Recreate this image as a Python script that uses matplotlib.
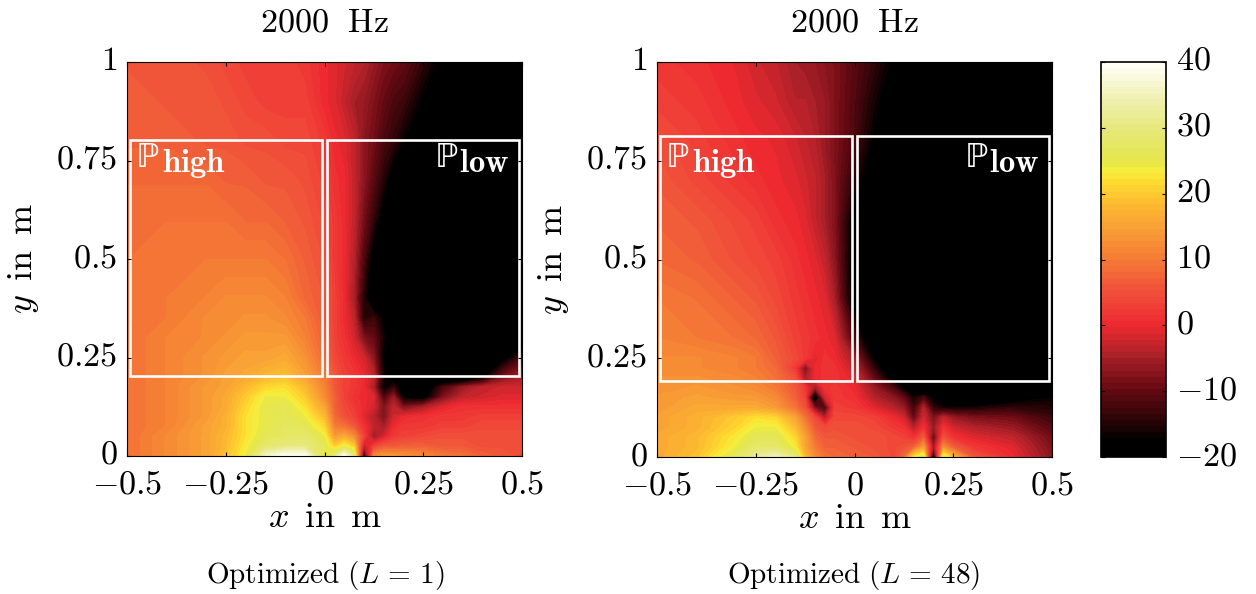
import numpy as np
import matplotlib
matplotlib.use('Agg')
import matplotlib.pyplot as plt
from matplotlib.cm import ScalarMappable
from matplotlib.colors import LinearSegmentedColormap, ListedColormap, Normalize
from matplotlib.patches import Rectangle
from matplotlib.transforms import ScaledTranslation

plt.rcParams['mathtext.fontset'] = 'cm'

# level in dB
l_x_left = [-.5, -.4, -.3, -.25, -.2, -.15, -.1, -.05, 0, .025, .05, .075, .1, .125, .15, .175, .2, .25, .3, .35, .4, .45, .5]
l_y_left = [0, .025, .05, .075, .1, .125, .15, .175, .2, .25, .3, .35, .4, .5, .6, .7, .8, .9, 1]
l_z_left = [
    [9, 12, 15, 19, 24, 36, 40, 40, 24, 30, 40, 30, -15, 12, 14, 14, 13, 12, 10, 9, 7, 6, 5],
    [9, 12, 15, 18, 23, 28, 30, 30, 26, 20, 24, 20, -4, 3, 6, 6, 7, 7, 6, 6, 5, 5, 5],
    [9, 12, 15, 18, 22, 26, 27, 28, 24, 14, 16, 12, 3, -6, -2, 2, 3, 4, 5, 5, 5, 5, 5],
    [9, 11, 15, 17, 22, 25, 27, 26, 21, 10, 9, 6, 1, -3, -5, 0, 2, 2, 3, 3, 4, 4, 4],
    [9, 11, 14, 17, 22, 25, 26, 24, 18, 8, 5, 3, -1, -4, -8, -2, 0, 1, 2, 2, 3, 3, 3],
    [9, 11, 14, 16, 21, 25, 26, 22, 15, 7, 4, 2, 0, -2, -8, -3, -8, -5, -1, 1, 1, 1, 1],
    [9, 11, 14, 16, 20, 24, 24, 20, 12, 7, 3, 1, 0, -1, -12, -6, -18, -20, -8, -3, -2, -1, -1],
    [9, 11, 14, 15, 18, 21, 22, 18, 11, 6, 3, 2, 0, -5, -18, -14, -20, -22, -12, -6, -3, -2, -2],
    [9, 11, 13, 15, 16, 18, 19, 15, 10, 6, 3, 2, 0, -3, -16, -20, -22, -25, -25, -25, -18, -8, -5],
    [9, 11, 13, 14, 15, 15, 16, 13, 8, 4, 2, 0, -2, -7, -18, -22, -24, -25, -25, -25, -25, -20, -12],
    [9, 11, 12, 13, 14, 14, 14, 11, 7, 3, 1, -2, -8, -10, -16, -22, -25, -25, -25, -25, -25, -25, -25],
    [9, 10, 12, 12, 13, 13, 12, 10, 6, 3, 0, -3, -15, -13, -18, -22, -25, -25, -25, -25, -25, -25, -25],
    [9, 10, 11, 12, 12, 12, 11, 8, 6, 3, 0, -5, -15, -24, -22, -25, -25, -25, -25, -25, -25, -25, -25],
    [9, 10, 10, 10, 10, 10, 9, 7, 5, 2, 0, -4, -12, -20, -24, -25, -25, -25, -25, -25, -25, -25, -25],
    [9, 9, 9, 9, 8, 8, 7, 6, 4, 2, 0, -3, -9, -14, -20, -25, -25, -25, -25, -25, -25, -25, -25],
    [8, 8, 8, 7, 7, 6, 6, 5, 3, 1, 0, -3, -7, -11, -15, -20, -25, -25, -25, -25, -25, -25, -25],
    [7, 7, 6, 6, 5, 5, 4, 4, 2, 0, -1, -3, -7, -9, -12, -14, -17, -21, -25, -25, -25, -25, -25],
    [7, 6, 6, 5, 4, 3, 3, 3, 0, -1, -3, -5, -6, -8, -10, -12, -13, -18, -22, -25, -25, -25, -25],
    [6, 6, 5, 4, 3, 3, 3, 2, 0, -1, -2, -3, -4, -6, -8, -9, -10, -14, -19, -24, -25, -25, -25],
]

l_x_right = [-.5, -.4, -.3, -.25, -.2, -.15, -.125, -.1, -.075, -.05, 0, .05, .1, .125, .15, .175, .2, .225, .25, .3, .4, .5]
l_y_right = [0, .025, .05, .075, .1, .125, .15, .175, .2, .225, .25, .3, .4, .5, .6, .7, .8, .9, 1]
l_z_right = [
    [16, 19, 27, 32, 35, 30, 18, 12, 9, 8, 7, 6, 4, 8, 22, 27, -20, 27, 18, 6, 0, -7],
    [16, 18, 24, 28, 28, 23, 15, 10, 7, 7, 6, 5, 4, 5, 7, 14, -6, 12, 7, 2, -1, -8],
    [16, 18, 23, 26, 26, 21, 15, 8, 6, 6, 5, 5, 4, 3, 1, 6, -10, 5, 1, -1, -3, -9],
    [15, 17, 21, 24, 24, 18, 12, 6, 4, 5, 5, 4, 2, 1, -4, 1, -6, 1, -2, -4, -6, -11],
    [15, 17, 20, 22, 21, 15, 9, 4, -4, 4, 4, 3, 0, -2, -10, -2, -8, -3, -6, -8, -9, -13],
    [14, 16, 16, 16, 14, 9, 5, -8, -12, 3, 2, -1, -4, -6, -13, -4, -14, -16, -16, -16, -14, -15],
    [14, 15, 14, 14, 12, 7, 3, -22, -2, 2, 1, -4, -7, -10, -16, -12, -18, -25, -25, -25, -20, -17],
    [13, 14, 13, 12, 10, 6, 2, -6, 1, 2, 0, -6, -12, -18, -25, -25, -25, -25, -25, -25, -25, -20],
    [13, 13, 12, 11, 9, 5, -5, 0, 1, 1, -1, -10, -20, -25, -25, -25, -25, -25, -25, -25, -25, -25],
    [12, 12, 11, 10, 8, 2, -8, 0, 1, 1, -3, -14, -24, -25, -25, -25, -25, -25, -25, -25, -25, -25],
    [12, 12, 11, 10, 7, 4, 2, -1, 1, 0, -5, -18, -25, -25, -25, -25, -25, -25, -25, -25, -25, -25],
    [11, 10, 9, 8, 6, 3, 2, 1, 0, -1, -12, -24, -25, -25, -25, -25, -25, -25, -25, -25, -25, -25],
    [10, 9, 7, 6, 4, 2, 1, 0, -1, -5, -20, -25, -25, -25, -25, -25, -25, -25, -25, -25, -25, -25],
    [8, 7, 5, 4, 3, 1, 0, -1, -3, -7, -20, -25, -25, -25, -25, -25, -25, -25, -25, -25, -25, -25],
    [7, 6, 4, 3, 1, 0, -1, -3, -5, -8, -19, -25, -25, -25, -25, -25, -25, -25, -25, -25, -25, -25],
    [6, 4, 2, 1, 0, -1, -2, -3, -5, -8, -15, -21, -25, -25, -25, -25, -25, -25, -25, -25, -25, -25],
    [5, 3, 1, 0, -.5, -2, -3, -4, -6, -8, -12, -18, -25, -25, -25, -25, -25, -25, -25, -25, -25, -25],
    [3, 2, 0, -1, -2, -4, -4, -5, -6, -8, -11.5, -16, -22, -25, -25, -25, -25, -25, -25, -25, -25, -25],
    [2, 1, -.5, -2, -3, -5, -5.5, -6, -7, -8, -11, -14, -18, -21, -25, -25, -25, -25, -25, -25, -25, -25],
]

l_cmap_vals = [-20, -18, -10, -5, 0, 5, 10, 15, 19, 22, 23.5, 25, 30, 35, 40]
l_cmap_cols = ['#000000', '#000000', '#680a12', '#a82028', '#ee2a30', '#f0503a', '#f47a35', '#f9a035',
               '#fdbe30', '#fddc2f', '#f8ee3c', '#e5e648', '#e6e878', '#f0f0b4', '#fffff8']

l_xticks = [-.5, -.25, 0, .25, .5]
l_xticklabels = [r'$-0.5$', r'$-0.25$', r'$0$', r'$0.25$', r'$0.5$']
l_yticks = [0, .25, .5, .75, 1]
l_yticklabels = [r'$0$', r'$0.25$', r'$0.5$', r'$0.75$', r'$1$']
l_cbar_ticks = [-20, -10, 0, 10, 20, 30, 40]
l_cbar_labels = [r'$-20$', r'$-10$', r'$0$', r'$10$', r'$20$', r'$30$', r'$40$']

W, H = 1256, 594
FS = 24.5


def build_cmap():
    l_nodes = [(v + 20) / 60 for v in l_cmap_vals]
    o_smooth = LinearSegmentedColormap.from_list('hot_db', list(zip(l_nodes, l_cmap_cols)), N=256)
    o_cmap = ListedColormap(o_smooth(np.linspace(0, 1, 64)))
    o_cmap.set_under('#000000')
    o_cmap.set_over('#fffff8')
    return o_cmap


def px_axes(fig, x0, x1, y0, y1):
    return fig.add_axes([x0 / W, 1 - y1 / H, (x1 - x0) / W, (y1 - y0) / H])


def raise_labels(fig, ax):
    # the y tick labels sit a little above their ticks in the original
    o_shift = ScaledTranslation(0, 5 / 100, fig.dpi_scale_trans)
    for o_label in ax.get_yticklabels():
        o_label.set_transform(o_label.get_transform() + o_shift)


def draw_panel(fig, ax, x, y, z, cmap, box_high, box_low, caption, caption_px):
    levels = np.linspace(-20, 40, 65)
    ax.contourf(x, y, np.array(z), levels=levels, cmap=cmap, vmin=-20, vmax=40, extend='both')
    ax.set_xlim(-.5, .5)
    ax.set_ylim(0, 1)
    ax.set_xticks(l_xticks, l_xticklabels, fontsize=FS)
    ax.set_yticks(l_yticks, l_yticklabels, fontsize=FS)
    ax.tick_params(direction='in', top=True, right=True, length=3, width=0.8)
    ax.tick_params(axis='x', pad=8)
    ax.tick_params(axis='y', pad=7)
    raise_labels(fig, ax)
    ax.set_title(r'$\mathrm{2000\ \ Hz}$', fontsize=FS, pad=22)
    ax.set_xlabel(r'$x\ \,\mathrm{in\ \,m}$', fontsize=26, labelpad=0)
    ax.set_ylabel(r'$y\ \,\mathrm{in\ \,m}$', fontsize=26, labelpad=11)
    for box in (box_high, box_low):
        ax.add_patch(Rectangle((box[0], box[2]), box[1] - box[0], box[3] - box[2], fill=False, ec='white', lw=1.9))
    ax.text(-.477, .733, '\u2119', color='white', fontsize=24, va='baseline', family='DejaVu Sans')
    ax.text(-.412, .721, r'$\mathbf{high}$', color='white', fontsize=23.5, va='baseline')
    ax.text(.278, .733, '\u2119', color='white', fontsize=24, va='baseline', family='DejaVu Sans')
    ax.text(.34, .721, r'$\mathbf{low}$', color='white', fontsize=23.5, va='baseline')
    fig.text(caption_px / W, 1 - 575 / H, caption, fontsize=21, ha='center', va='center')


o_cmap = build_cmap()
fig = plt.figure(figsize=(W / 100, H / 100), dpi=100)

ax_left = px_axes(fig, 127, 522, 62, 456)
draw_panel(fig, ax_left, l_x_left, l_y_left, l_z_left, o_cmap, (-.4924, -.007, .203, .802), (.0055, .4924, .203, .802),
           r'$\mathrm{Optimized}\ (L\,=\,1)$', 325)
ax_right = px_axes(fig, 657, 1052, 62, 457)
draw_panel(fig, ax_right, l_x_right, l_y_right, l_z_right, o_cmap, (-.4924, -.007, .192, .813), (.0065, .4924, .192, .813),
           r'$\mathrm{Optimized}\ (L\,=\,48)$', 854)

cax = px_axes(fig, 1101, 1166, 62, 457)
cb = fig.colorbar(ScalarMappable(norm=Normalize(-20, 40), cmap=o_cmap), cax=cax)
cb.set_ticks(l_cbar_ticks, labels=l_cbar_labels, fontsize=FS)
cax.tick_params(direction='in', left=True, right=True, length=3, width=0.8, pad=7)
raise_labels(fig, cax)
cb.outline.set_linewidth(1.2)

fig.savefig('out.png', dpi=100)
